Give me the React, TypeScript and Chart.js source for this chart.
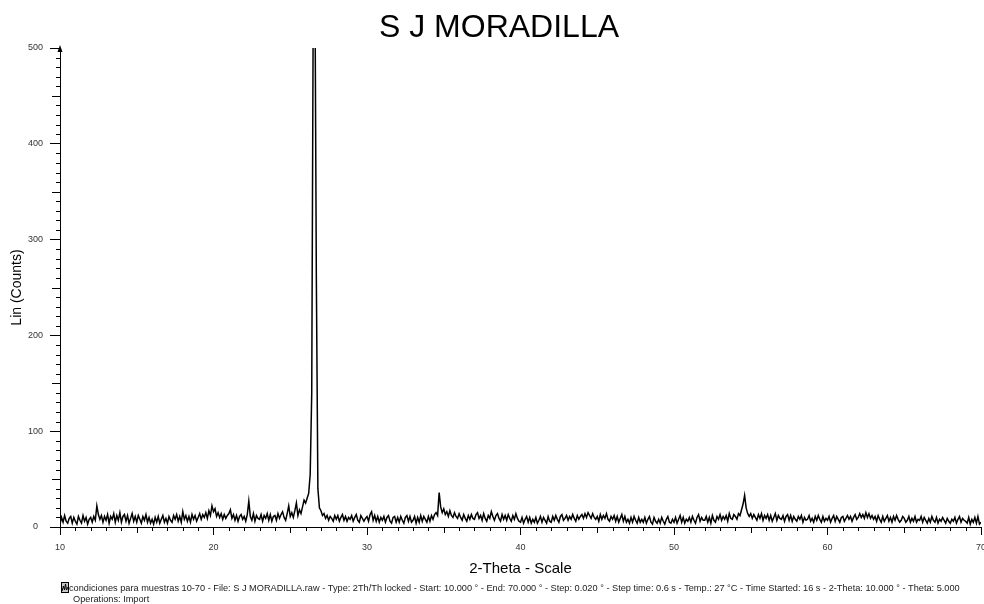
import React, { useEffect, useRef } from "react";
import { Chart, registerables } from "chart.js";

Chart.register(...registerables);

// ---- Data (counts, 0.1° apart) ----
const TITLE = "S J MORADILLA";
const X_TITLE = "2-Theta - Scale";
const Y_TITLE = "Lin (Counts)";
const FOOTER_LINE_1 =
  "condiciones para muestras 10-70 - File: S J MORADILLA.raw - Type: 2Th/Th locked - Start: 10.000 ° - End: 70.000 ° - Step: 0.020 ° - Step time: 0.6 s - Temp.: 27 °C - Time Started: 16 s - 2-Theta: 10.000 ° - Theta: 5.000";
const FOOTER_LINE_2 = "Operations: Import";

const TWO_THETA_START = 10;
const TWO_THETA_STEP = 0.1;
const X_MIN = 10;
const X_MAX = 70;
const Y_MIN = 0;
const Y_MAX = 500;

const COUNTS_10S = [
  3, 10, 5, 12, 6, 4, 9, 11, 4, 10,
  6, 3, 11, 7, 4, 12, 6, 10, 3, 8,
  10, 5, 11, 7, 22, 13, 8, 12, 5, 11,
  7, 13, 4, 11, 8, 14, 5, 12, 7, 15,
  5, 11, 13, 6, 12, 4, 9, 14, 6, 11,
  5, 12, 8, 4, 11, 7, 13, 5, 10, 4,
  8, 3, 10, 5, 11, 4, 8, 12, 5, 9,
  4, 11, 7, 5, 12, 8, 13, 6, 11, 5,
  16, 8, 12, 6, 11, 5, 13, 8, 12, 6,
  10, 14, 8, 13, 10, 15, 9, 17, 12, 22,
];
const COUNTS_20S = [
  16, 19, 11, 15, 10, 14, 8, 13, 9, 12,
  14, 18, 9, 13, 7, 12, 6, 11, 13, 8,
  11, 6, 13, 27, 11, 7, 14, 6, 12, 9,
  8, 13, 6, 12, 9, 14, 7, 13, 6, 11,
  12, 7, 14, 9, 13, 16, 10, 7, 14, 22,
  11, 15, 10, 17, 25, 12, 18, 14, 21, 28,
  25, 30, 35, 55, 140, 560, 600, 260, 40, 20,
  17, 12, 14, 9, 12, 7, 11, 9, 6, 12,
  8, 12, 6, 10, 13, 7, 11, 6, 10, 8,
  12, 6, 10, 13, 7, 5, 12, 9, 6, 9,
];
const COUNTS_30S = [
  11, 6, 13, 16, 7, 12, 6, 11, 5, 10,
  7, 11, 5, 10, 12, 6, 4, 10, 11, 5,
  10, 5, 11, 7, 4, 10, 12, 6, 11, 5,
  7, 11, 4, 10, 5, 12, 6, 11, 8, 5,
  11, 6, 12, 8, 13, 15, 12, 36, 21, 15,
  19, 13, 16, 11, 17, 12, 10, 15, 11, 9,
  14, 10, 7, 13, 9, 6, 12, 8, 13, 9,
  8, 13, 15, 9, 12, 7, 14, 9, 6, 12,
  9, 16, 11, 7, 12, 14, 9, 6, 13, 8,
  12, 7, 13, 9, 6, 12, 8, 14, 9, 6,
];
const COUNTS_40S = [
  5, 10, 4, 8, 11, 5, 10, 4, 8, 5,
  10, 4, 7, 11, 5, 10, 7, 4, 11, 6,
  5, 11, 7, 12, 8, 5, 11, 13, 7, 9,
  12, 7, 11, 8, 13, 9, 6, 12, 8, 11,
  13, 9, 14, 10, 15, 12, 9, 14, 10, 8,
  11, 6, 13, 8, 12, 9, 14, 8, 6, 11,
  8, 12, 6, 11, 5, 9, 13, 6, 11, 5,
  8, 4, 10, 5, 11, 7, 4, 10, 5, 8,
  5, 10, 4, 8, 11, 5, 3, 10, 6, 4,
  8, 4, 10, 6, 3, 8, 11, 5, 4, 8,
];
const COUNTS_50S = [
  5, 10, 4, 8, 12, 5, 10, 4, 8, 6,
  10, 5, 11, 7, 4, 10, 13, 6, 10, 7,
  7, 11, 5, 10, 4, 12, 7, 5, 11, 8,
  13, 7, 11, 8, 12, 6, 14, 9, 8, 13,
  11, 8, 14, 12, 18, 24, 33, 20, 14, 11,
  14, 9, 13, 10, 7, 13, 9, 14, 7, 12,
  9, 13, 7, 12, 6, 10, 14, 7, 12, 9,
  8, 12, 6, 11, 13, 7, 12, 6, 11, 8,
  6, 11, 8, 12, 5, 10, 7, 8, 12, 6,
  9, 5, 11, 7, 12, 8, 5, 11, 6, 9,
];
const COUNTS_60S = [
  7, 11, 5, 9, 12, 6, 11, 8, 5, 10,
  11, 6, 9, 12, 8, 11, 6, 10, 13, 8,
  10, 14, 10, 13, 9, 15, 10, 14, 9, 12,
  8, 11, 6, 12, 8, 5, 11, 6, 9, 12,
  6, 10, 5, 11, 7, 12, 8, 5, 7, 11,
  9, 5, 7, 11, 5, 9, 6, 11, 5, 8,
  7, 11, 5, 10, 7, 4, 9, 5, 11, 7,
  5, 10, 4, 8, 6, 10, 7, 4, 9, 6,
  4, 8, 6, 10, 4, 8, 11, 5, 9, 7,
  6, 4, 10, 3, 8, 5, 10, 4, 11, 3,
];
const COUNTS_70 = [5];

const FONT = "'Liberation Sans', Arial, Helvetica, sans-serif";

export default function App() {
  const canvasRef = useRef<HTMLCanvasElement | null>(null);

  useEffect(() => {
    const canvas = canvasRef.current;
    if (!canvas) return;

    const counts = [
      ...COUNTS_10S,
      ...COUNTS_20S,
      ...COUNTS_30S,
      ...COUNTS_40S,
      ...COUNTS_50S,
      ...COUNTS_60S,
      ...COUNTS_70,
    ];
    const points = counts.map((c, i) => ({
      x: +(TWO_THETA_START + i * TWO_THETA_STEP).toFixed(2),
      y: c,
    }));

    const decor = {
      id: "decor",
      afterDraw(chart: any) {
        const { ctx, chartArea } = chart;
        const xs = chart.scales.x;
        const ys = chart.scales.y;
        ctx.save();
        ctx.strokeStyle = "#000";
        ctx.lineWidth = 1;
        // minor ticks on x
        for (let v = X_MIN; v <= X_MAX; v += 1) {
          if (v % 10 === 0) continue;
          const px = Math.round(xs.getPixelForValue(v)) + 0.5;
          const len = v % 5 === 0 ? 6 : 4;
          ctx.beginPath();
          ctx.moveTo(px, chartArea.bottom);
          ctx.lineTo(px, chartArea.bottom + len);
          ctx.stroke();
        }
        // minor ticks on y
        for (let v = Y_MIN; v <= Y_MAX; v += 10) {
          if (v % 100 === 0) continue;
          const py = Math.round(ys.getPixelForValue(v)) + 0.5;
          const len = v % 50 === 0 ? 8 : 4;
          ctx.beginPath();
          ctx.moveTo(chartArea.left - len, py);
          ctx.lineTo(chartArea.left, py);
          ctx.stroke();
        }
        // arrow on top of y axis
        const ax = chartArea.left;
        const ay = chartArea.top - 3;
        ctx.fillStyle = "#000";
        ctx.beginPath();
        ctx.moveTo(ax, ay);
        ctx.lineTo(ax - 2.5, ay + 7);
        ctx.lineTo(ax + 2.5, ay + 7);
        ctx.closePath();
        ctx.fill();

        // title
        ctx.fillStyle = "#000";
        ctx.font = `32px ${FONT}`;
        ctx.textAlign = "center";
        ctx.textBaseline = "alphabetic";
        ctx.fillText(TITLE, 499, 37);

        // footer icon
        ctx.fillStyle = "#c8c8c8";
        ctx.fillRect(61.5, 582.5, 7, 10);
        ctx.strokeStyle = "#000";
        ctx.strokeRect(61.5, 582.5, 7, 10);
        ctx.beginPath();
        ctx.moveTo(62, 591);
        ctx.lineTo(63.5, 586);
        ctx.lineTo(64.5, 590);
        ctx.lineTo(65.5, 584);
        ctx.lineTo(66.5, 590);
        ctx.lineTo(68, 587);
        ctx.stroke();

        // footer text
        ctx.fillStyle = "#222";
        ctx.textAlign = "left";
        ctx.font = `10px ${FONT}`;
        const w = ctx.measureText(FOOTER_LINE_1).width;
        const size = (10 * 891) / w;
        ctx.font = `${size.toFixed(2)}px ${FONT}`;
        ctx.fillText(FOOTER_LINE_1, 69, 590.5);
        ctx.fillText(FOOTER_LINE_2, 73, 601.5);
        ctx.restore();
      },
    };

    const chart = new Chart(canvas, {
      type: "line",
      data: {
        datasets: [
          {
            data: points,
            borderColor: "#000",
            borderWidth: 1.5,
            pointRadius: 0,
            tension: 0,
            fill: false,
          },
        ],
      },
      options: {
        animation: false,
        responsive: false,
        maintainAspectRatio: false,
        layout: { padding: { top: 48, right: 3, left: 0, bottom: 0 } },
        plugins: {
          legend: { display: false },
          title: { display: false },
          tooltip: { enabled: false },
        },
        scales: {
          x: {
            type: "linear",
            min: X_MIN,
            max: X_MAX,
            afterFit(scale: any) {
              scale.height = 77;
              scale.paddingLeft = 0;
              scale.paddingRight = 0;
            },
            ticks: {
              stepSize: 10,
              autoSkip: false,
              maxRotation: 0,
              padding: 7,
              color: "#333",
              font: { family: FONT, size: 9 },
            },
            grid: {
              display: true,
              drawOnChartArea: false,
              drawTicks: true,
              tickLength: 8,
              color: "#000",
            },
            border: { display: true, color: "#000", width: 1 },
            title: {
              display: true,
              text: X_TITLE,
              color: "#000",
              font: { family: FONT, size: 15 },
              padding: { top: 0, bottom: 26 },
            },
          },
          y: {
            type: "linear",
            min: Y_MIN,
            max: Y_MAX,
            afterFit(scale: any) {
              scale.width = 60;
              scale.paddingTop = 0;
              scale.paddingBottom = 0;
            },
            ticks: {
              stepSize: 100,
              padding: 7,
              crossAlign: "center",
              color: "#333",
              font: { family: FONT, size: 9 },
            },
            grid: {
              display: true,
              drawOnChartArea: false,
              drawTicks: true,
              tickLength: 10,
              color: "#000",
            },
            border: { display: true, color: "#000", width: 1 },
            title: {
              display: true,
              text: Y_TITLE,
              color: "#000",
              font: { family: FONT, size: 14 },
              padding: { top: 9, bottom: 0 },
            },
          },
        },
      },
      plugins: [decor],
    });

    return () => chart.destroy();
  }, []);

  return (
    <div style={{ position: "absolute", left: 0, top: 0, width: 984, height: 604, background: "#fff" }}>
      <canvas ref={canvasRef} width={984} height={604} style={{ display: "block" }} />
    </div>
  );
}
